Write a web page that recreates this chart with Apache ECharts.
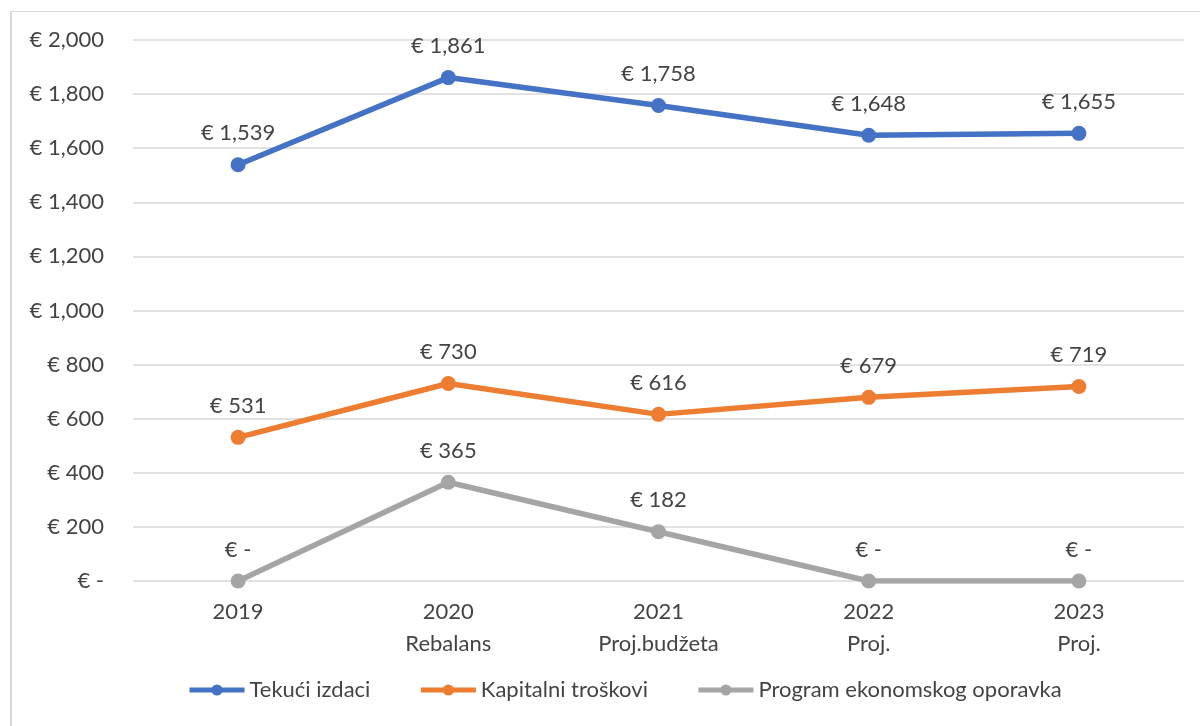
<!DOCTYPE html>
<html>
<head>
<meta charset="utf-8">
<script src="https://cdn.jsdelivr.net/npm/echarts@6/dist/echarts.min.js"></script>
<style>
  html, body { margin: 0; padding: 0; background: #fff; }
  #frame { position: absolute; left: 10px; top: 11px; width: 1200px; height: 730px;
           border-left: 2px solid #d9d9d9; border-top: 1px solid #d9d9d9; }
  #main { position: absolute; left: 0; top: 0; width: 1200px; height: 726px; }
</style>
</head>
<body>
<div id="frame"></div>
<div id="main"></div>
<script>
var categories = ['2019', '2020\nRebalans', '2021\nProj.budžeta', '2022\nProj.', '2023\nProj.']
var tekuci = [1539, 1861, 1758, 1648, 1655]
var kapitalni = [531, 730, 616, 679, 719]
var program = [0, 365, 182, 0, 0]

function euro (v) {
  if (v === 0) return '€ -'
  return '€ ' + v.toLocaleString('en-US')
}

var font = 'Lato, "Open Sans", sans-serif'
var textColor = '#444444'

function line (name, data, color) {
  return {
    name: name,
    type: 'line',
    data: data,
    symbol: 'circle',
    symbolSize: 15,
    lineStyle: { color: color, width: 5.5 },
    itemStyle: { color: color },
    label: {
      show: true,
      position: 'top',
      distance: 13,
      color: textColor,
      fontSize: 22,
      fontFamily: font,
      formatter: function (p) { return euro(p.value) }
    }
  }
}

var myChart = echarts.init(document.getElementById('main'))
var option = {
  animation: false,
  grid: { left: 133, right: 16, top: 40, bottom: 145 },
  legend: {
    left: 182,
    bottom: 20,
    itemWidth: 55,
    itemHeight: 14,
    itemGap: 48,
    lineStyle: { width: 5 },
    textStyle: { color: textColor, fontSize: 22, fontFamily: font },
    data: ['Tekući izdaci', 'Kapitalni troškovi', 'Program ekonomskog oporavka']
  },
  xAxis: {
    type: 'category',
    data: categories,
    axisLine: { show: false },
    axisTick: { show: false },
    axisLabel: { color: textColor, fontSize: 22, fontFamily: font, margin: 15, lineHeight: 32 }
  },
  yAxis: {
    type: 'value',
    min: 0,
    max: 2000,
    interval: 200,
    axisLine: { show: false },
    axisTick: { show: false },
    splitLine: { lineStyle: { color: '#d9d9d9', width: 1.5 } },
    axisLabel: { color: textColor, fontSize: 22, fontFamily: font, margin: 29, formatter: euro }
  },
  series: [
    line('Tekući izdaci', tekuci, '#4472c4'),
    line('Kapitalni troškovi', kapitalni, '#ed7d31'),
    line('Program ekonomskog oporavka', program, '#a5a5a5')
  ]
}
myChart.setOption(option)
</script>
</body>
</html>
